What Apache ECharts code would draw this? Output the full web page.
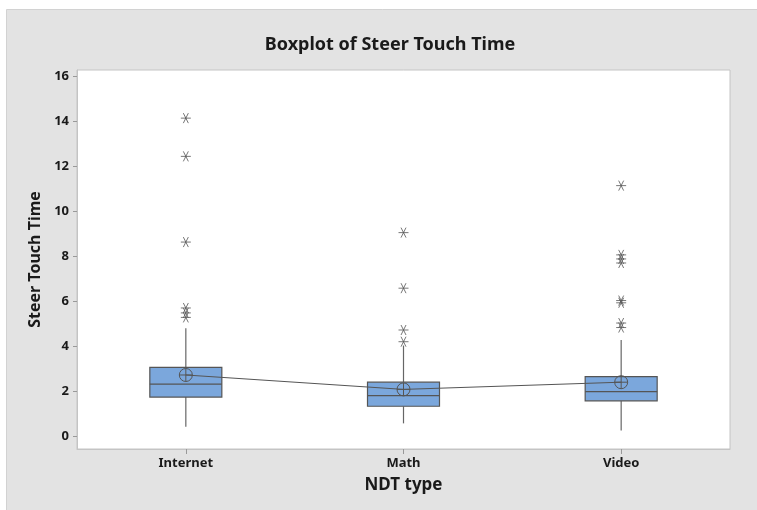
<!DOCTYPE html>
<html>
<head>
<meta charset="utf-8">
<script src="https://cdn.jsdelivr.net/npm/echarts@6/dist/echarts.min.js"></script>
<style>html,body{margin:0;padding:0;background:#fff}#c{width:757px;height:510px}</style>
</head>
<body>
<div id="c"></div>
<script>
const categories = ['Internet', 'Math', 'Video'];
// [lower whisker, Q1, median, Q3, upper whisker]
const internetBox = [0.44, 1.76, 2.33, 3.08, 4.82];
const mathBox = [0.59, 1.35, 1.82, 2.42, 4.05];
const videoBox = [0.27, 1.59, 2.0, 2.67, 4.3];
const means = [2.74, 2.1, 2.42];
const internetOutliers = [14.16, 12.46, 8.65, 5.72, 5.5, 5.3];
const mathOutliers = [9.07, 6.6, 4.74, 4.22];
const videoOutliers = [11.16, 8.08, 7.9, 7.72, 6.05, 5.95, 5.05, 4.85];
const yTicks = [0, 2, 4, 6, 8, 10, 12, 14, 16];

const boxes = [internetBox, mathBox, videoBox];
const boxData = boxes.map((b, i) => [i].concat(b));
const outlierLists = [internetOutliers, mathOutliers, videoOutliers];
const outlierData = [];
outlierLists.forEach((list, i) => list.forEach(v => outlierData.push([categories[i], v])));

const FONT = "'Noto Sans', 'Open Sans', sans-serif";
const meanSymbol = 'path://M0,-10A10,10 0 1,1 0,10A10,10 0 1,1 0,-10ZM-10,0L10,0M0,-10L0,10';
const starSymbol = 'path://M-10,0L10,0M-5,-8.66L5,8.66M-5,8.66L5,-8.66';
const BOX_W = 72;

function renderBox(params, api) {
  const x = api.coord([api.value(0), 0])[0];
  const yMin = api.coord([api.value(0), api.value(1)])[1];
  const yQ1 = api.coord([api.value(0), api.value(2)])[1];
  const yMed = api.coord([api.value(0), api.value(3)])[1];
  const yQ3 = api.coord([api.value(0), api.value(4)])[1];
  const yMax = api.coord([api.value(0), api.value(5)])[1];
  const stroke = {stroke: '#555555', lineWidth: 1.2, fill: null};
  return {
    type: 'group',
    children: [
      {type: 'line', shape: {x1: x, y1: yMax, x2: x, y2: yQ3}, style: {stroke: '#666', lineWidth: 1.2}},
      {type: 'line', shape: {x1: x, y1: yQ1, x2: x, y2: yMin}, style: {stroke: '#666', lineWidth: 1.2}},
      {type: 'rect', shape: {x: x - BOX_W / 2, y: yQ3, width: BOX_W, height: yQ1 - yQ3},
       style: {fill: '#7ba7dc', stroke: '#555555', lineWidth: 1.2}},
      {type: 'line', shape: {x1: x - BOX_W / 2, y1: yMed, x2: x + BOX_W / 2, y2: yMed}, style: stroke}
    ]
  };
}

const chart = echarts.init(document.getElementById('c'), null, {renderer: 'canvas'});
chart.setOption({
  backgroundColor: '#ffffff',
  animation: false,
  graphic: [{
    type: 'rect', z: -100, silent: true,
    shape: {x: 6.5, y: 9.5, width: 760, height: 510},
    style: {fill: '#e3e3e3', stroke: '#d2d2d2', lineWidth: 1}
  }],
  title: {
    text: 'Boxplot of Steer Touch Time',
    left: 385, top: 31, textAlign: 'center',
    textStyle: {fontFamily: FONT, fontSize: 18, fontWeight: 'bold', color: '#1a1a1a'}
  },
  grid: {
    left: 77, top: 70, right: 27, bottom: 61,
    show: true, backgroundColor: '#ffffff', borderColor: '#c4c4c4', borderWidth: 1,
    containLabel: false
  },
  xAxis: {
    type: 'category',
    data: categories,
    boundaryGap: true,
    name: 'NDT type',
    nameLocation: 'middle',
    nameGap: 28,
    nameTextStyle: {fontFamily: FONT, fontSize: 17, fontWeight: 'bold', color: '#1a1a1a'},
    axisLine: {show: true, onZero: false, lineStyle: {color: '#c4c4c4', width: 1}},
    axisTick: {show: true, alignWithLabel: true, length: 5, lineStyle: {color: '#999'}},
    axisLabel: {fontFamily: FONT, fontSize: 13, fontWeight: 'bold', color: '#1a1a1a', margin: 8},
    splitLine: {show: false}
  },
  yAxis: {
    type: 'value',
    min: -0.55, max: 16.3,
    name: 'Steer Touch Time',
    nameLocation: 'middle',
    nameGap: 34,
    nameTextStyle: {fontFamily: FONT, fontSize: 16, fontWeight: 'bold', color: '#1a1a1a'},
    axisLine: {show: true, lineStyle: {color: '#c4c4c4', width: 1}},
    axisTick: {show: true, length: 4, customValues: yTicks, lineStyle: {color: '#999'}},
    axisLabel: {fontFamily: FONT, fontSize: 13, fontWeight: 'bold', color: '#1a1a1a', margin: 8, customValues: yTicks},
    splitLine: {show: false}
  },
  series: [
    {
      type: 'custom',
      renderItem: renderBox,
      data: boxData,
      encode: {x: 0, y: [1, 2, 3, 4, 5]},
      z: 2
    },
    {
      type: 'line',
      data: means,
      symbol: meanSymbol,
      symbolSize: 13,
      lineStyle: {color: '#555555', width: 1},
      itemStyle: {color: 'rgba(0,0,0,0)', borderColor: '#555555', borderWidth: 1},
      z: 3
    },
    {
      type: 'scatter',
      data: outlierData,
      symbol: starSymbol,
      symbolSize: [10, 10],
      itemStyle: {color: 'rgba(0,0,0,0)', borderColor: '#555555', borderWidth: 1},
      z: 3
    }
  ]
});
</script>
</body>
</html>
